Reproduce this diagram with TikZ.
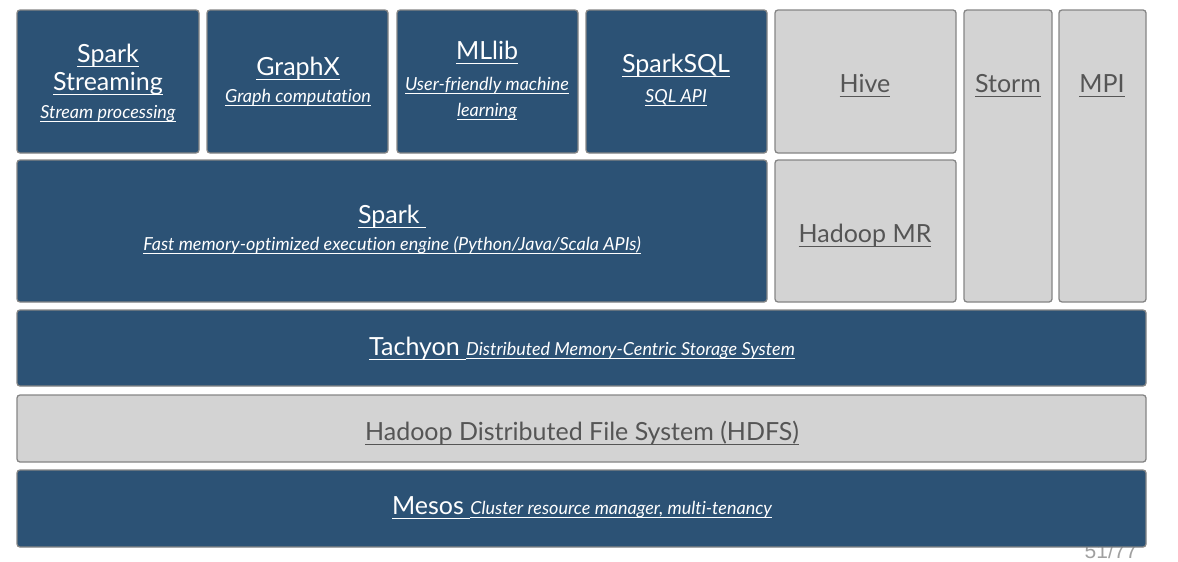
\documentclass[tikz,border=0pt]{standalone}
\usepackage{fontspec}
\setmainfont{Lato}[Ligatures=NoCommon]
\newfontfamily\pgnfont{Liberation Sans}
\definecolor{sblue}{HTML}{2C5275}
\definecolor{sgrey}{HTML}{D3D3D3}
\definecolor{sborder}{HTML}{858585}
\definecolor{stext}{HTML}{555555}
\definecolor{pgcol}{HTML}{A0A0A0}
\newcommand\ttlf{\fontsize{25}{30}\selectfont}
\newcommand\subf{\fontsize{18}{22}\selectfont\itshape}
\newcommand\ulx[3]{\setbox0=\hbox{#3}\leavevmode\rlap{\rule[-#1]{\wd0}{#2}}\box0}
\newcommand\ttl[1]{{\ttlf\ulx{5pt}{1.5pt}{#1}}}
\newcommand\sbt[1]{{\subf\ulx{3.8pt}{1.3pt}{#1}}}
\newcommand\blkbox[6]{\node[#2, inner sep=0pt, minimum width={#5-#3}, minimum height={#6-#4}] (#1) at ({(#3+#5)/2},{(#4+#6)/2}) {};}
\begin{document}
\begin{tikzpicture}[x=1pt,y=-1pt,
 box/.style={draw=sborder, line width=1.3pt, rounded corners=3pt},
 bluebox/.style={box, fill=sblue},
 greybox/.style={box, fill=sgrey},
 wt/.style={anchor=base, text=white, inner sep=0pt},
 gt/.style={anchor=base, text=stext, inner sep=0pt},
]
\useasboundingbox (0,0) rectangle (1178,562);
\node[anchor=base, inner sep=0pt, text=pgcol, font=\pgnfont\fontsize{21}{24}\selectfont] (pg) at (1111,558) {51/77};
\blkbox{ss}{bluebox}{17}{10}{199}{153}
\blkbox{gx}{bluebox}{207}{10}{388}{153}
\blkbox{ml}{bluebox}{397}{10}{578}{153}
\blkbox{sq}{bluebox}{586}{10}{767}{153}
\blkbox{hv}{greybox}{775}{10}{956}{153}
\blkbox{st}{greybox}{964}{10}{1052}{302}
\blkbox{mp}{greybox}{1059}{10}{1146}{302}
\blkbox{sp}{bluebox}{17}{160}{767}{302}
\blkbox{hm}{greybox}{775}{160}{956}{302}
\blkbox{ta}{bluebox}{17}{310}{1146}{386}
\blkbox{hd}{greybox}{17}{395}{1146}{462}
\blkbox{me}{bluebox}{17}{470}{1146}{547}
% texts
\node[wt] (ss1) at (108,62) {\ttl{Spark}};
\node[wt] (ss2) at (108,90) {\ttl{Streaming}};
\node[wt] (ss3) at (108,118) {\sbt{Stream processing}};
\node[wt] (gx1) at (298,75) {\ttl{GraphX}};
\node[wt] (gx2) at (298,102) {\sbt{Graph computation}};
\node[wt] (ml1) at (487,59) {\ttl{MLlib}};
\node[wt] (ml2) at (487,90) {\sbt{User-friendly machine}};
\node[wt] (ml3) at (487,116) {\sbt{learning}};
\node[wt] (sq1) at (676,72) {\ttl{SparkSQL}};
\node[wt] (sq2) at (676,102) {\sbt{SQL API}};
\node[gt] (hv1) at (865,92) {\ttl{Hive}};
\node[gt] (st1) at (1008,92) {\ttl{Storm}};
\node[gt] (mp1) at (1102,92) {\ttl{MPI}};
\node[wt] (sp1) at (392,223) {\ttl{Spark~}};
\node[wt] (sp2) at (392,250) {\sbt{Fast memory-optimized execution engine (Python/Java/Scala APIs)}};
\node[gt] (hm1) at (865,242) {\ttl{Hadoop MR}};
\node[wt] (ta1) at (582,355) {\ttl{Tachyon~}\sbt{Distributed Memory-Centric Storage System}};
\node[gt] (hd1) at (582,440) {\ttl{Hadoop Distributed File System (HDFS)}};
\node[wt] (me1) at (582,514) {\ttl{Mesos~}\sbt{Cluster resource manager, multi-tenancy}};
\end{tikzpicture}
\end{document}
